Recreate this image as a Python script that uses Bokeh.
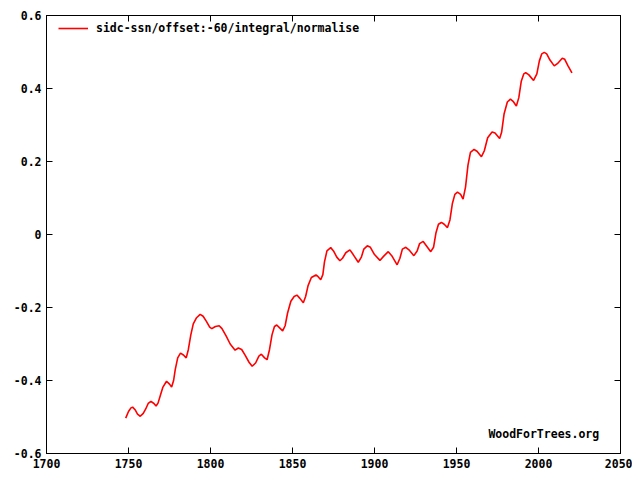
from bokeh.plotting import figure
from bokeh.models import (ColumnDataSource, FixedTicker, LinearAxis, Legend, LegendItem,
                          CustomJSTickFormatter, Range1d, Label)
from bokeh.embed import file_html
from bokeh.resources import INLINE

years = [1748.3, 1750.0, 1751.5, 1752.5, 1754.0, 1755.5, 1757.2, 1759.0, 1760.5, 1762.0,
         1763.7, 1765.5, 1766.8, 1768.0, 1769.5, 1771.0, 1773.2, 1775.0, 1776.3, 1777.5,
         1778.5, 1780.0, 1781.7, 1783.5, 1785.2, 1786.5, 1788.0, 1789.5, 1791.5, 1793.7,
         1795.5, 1797.5, 1799.5, 1800.8, 1803.0, 1805.3, 1807.0, 1809.5, 1812.0, 1815.0,
         1817.0, 1819.0, 1821.0, 1823.5, 1825.4, 1827.5, 1829.5, 1831.0, 1833.0, 1834.5,
         1836.0, 1837.5, 1839.0, 1840.4, 1842.0, 1844.0, 1845.5, 1847.0, 1849.0, 1851.0,
         1852.7, 1854.5, 1856.6, 1858.0, 1859.5, 1861.5, 1864.3, 1865.5, 1867.2, 1868.5,
         1869.5, 1871.0, 1873.3, 1875.0, 1877.0, 1878.9, 1880.5, 1882.5, 1885.0, 1887.0,
         1890.1, 1892.0, 1893.5, 1895.6, 1897.5, 1900.0, 1903.3, 1905.5, 1908.4, 1910.5,
         1913.8, 1915.5, 1917.0, 1919.1, 1921.0, 1924.0, 1926.0, 1927.5, 1929.7, 1931.5,
         1934.3, 1936.0, 1937.5, 1939.0, 1940.8, 1942.5, 1944.5, 1946.0, 1947.5, 1949.0,
         1950.6, 1952.5, 1954.0, 1955.5, 1957.0, 1958.5, 1960.7, 1962.5, 1965.2, 1967.0,
         1969.0, 1971.7, 1973.5, 1976.3, 1977.5, 1979.0, 1981.0, 1982.9, 1984.5, 1986.5,
         1988.0, 1989.5, 1991.0, 1992.2, 1994.0, 1997.0, 1999.0, 2000.5, 2002.0, 2003.5,
         2005.0, 2007.0, 2009.6, 2011.5, 2014.5, 2016.0, 2018.0, 2020.4]
values = [-0.503, -0.485, -0.475, -0.473, -0.480, -0.492, -0.498, -0.490, -0.478, -0.463,
          -0.457, -0.463, -0.470, -0.462, -0.440, -0.418, -0.402, -0.410, -0.418, -0.400,
          -0.370, -0.338, -0.325, -0.330, -0.338, -0.315, -0.275, -0.245, -0.228, -0.219,
          -0.224, -0.238, -0.254, -0.258, -0.252, -0.250, -0.258, -0.278, -0.300, -0.317,
          -0.311, -0.315, -0.330, -0.350, -0.361, -0.352, -0.333, -0.328, -0.338, -0.343,
          -0.315, -0.275, -0.252, -0.248, -0.255, -0.264, -0.250, -0.215, -0.183, -0.170,
          -0.166, -0.175, -0.187, -0.170, -0.140, -0.118, -0.111, -0.115, -0.124, -0.110,
          -0.075, -0.045, -0.036, -0.045, -0.062, -0.072, -0.065, -0.050, -0.042, -0.055,
          -0.076, -0.062, -0.040, -0.031, -0.035, -0.055, -0.071, -0.060, -0.047, -0.058,
          -0.083, -0.065, -0.040, -0.035, -0.042, -0.058, -0.045, -0.025, -0.019, -0.030,
          -0.047, -0.035, 0.005, 0.028, 0.033, 0.028, 0.019, 0.040, 0.085, 0.110,
          0.116, 0.110, 0.097, 0.130, 0.190, 0.225, 0.233, 0.228, 0.213, 0.230,
          0.265, 0.281, 0.278, 0.263, 0.280, 0.330, 0.363, 0.371, 0.365, 0.352,
          0.375, 0.420, 0.440, 0.443, 0.438, 0.422, 0.440, 0.475, 0.495, 0.499,
          0.495, 0.478, 0.462, 0.468, 0.483, 0.480, 0.462, 0.443]

x_ticks = [1700, 1750, 1800, 1850, 1900, 1950, 2000, 2050]
y_ticks = [-0.6, -0.4, -0.2, 0.0, 0.2, 0.4, 0.6]
series_label = "sidc-ssn/offset:-60/integral/normalise"
credit = "WoodForTrees.org"

FONT = "DejaVu Sans Mono"
FS = "11.5px"

p = figure(width=632, height=472, output_backend="svg", toolbar_location=None,
           x_range=Range1d(1700, 2050), y_range=Range1d(-0.6, 0.6),
           min_border_left=46, min_border_right=12, min_border_top=15, min_border_bottom=19)
p.background_fill_color = "white"
p.border_fill_color = "white"
p.outline_line_color = "black"
p.outline_line_width = 1
p.grid.visible = False

src = ColumnDataSource(dict(x=years, y=values))
r = p.line("x", "y", source=src, line_color="#ff0000", line_width=1.6)

fmt_y = CustomJSTickFormatter(code="return Math.abs(tick) < 1e-9 ? '0' : tick.toFixed(1);")
fmt_x = CustomJSTickFormatter(code="return tick.toFixed(0);")
fmt_blank = CustomJSTickFormatter(code="return '';")

for ax in p.xaxis:
    ax.ticker = FixedTicker(ticks=x_ticks)
    ax.formatter = fmt_x
for ax in p.yaxis:
    ax.ticker = FixedTicker(ticks=y_ticks)
    ax.formatter = fmt_y

def style(ax):
    ax.major_tick_in = 6
    ax.major_tick_out = 0
    ax.minor_tick_line_color = None
    ax.axis_line_color = "black"
    ax.major_tick_line_color = "black"
    ax.major_label_text_font = FONT
    ax.major_label_text_font_style = "bold"
    ax.major_label_text_color = "black"
    ax.major_label_text_font_size = FS
    ax.major_label_standoff = 5

for ax in p.xaxis + p.yaxis:
    style(ax)

ax_r = LinearAxis(ticker=FixedTicker(ticks=y_ticks), formatter=fmt_blank)
style(ax_r)
ax_r.major_label_standoff = 0
p.add_layout(ax_r, "right")
ax_t = LinearAxis(ticker=FixedTicker(ticks=x_ticks), formatter=fmt_blank)
style(ax_t)
ax_t.major_label_standoff = 0
p.add_layout(ax_t, "above")

legend = Legend(items=[LegendItem(label=series_label, renderers=[r])],
                location=(12, 418), margin=0, padding=2,
                label_text_font=FONT, label_text_font_style="bold",
                label_text_font_size=FS, label_text_color="black",
                glyph_width=30, glyph_height=14, label_height=14, label_standoff=8,
                border_line_color=None, background_fill_alpha=0)
p.add_layout(legend, "center")

lbl = Label(x=2037, y=-0.547, text=credit, text_align="right", text_baseline="middle",
            text_font=FONT, text_font_style="bold", text_font_size=FS, text_color="black")
p.add_layout(lbl)

open("out.html", "w").write(file_html(p, INLINE))
